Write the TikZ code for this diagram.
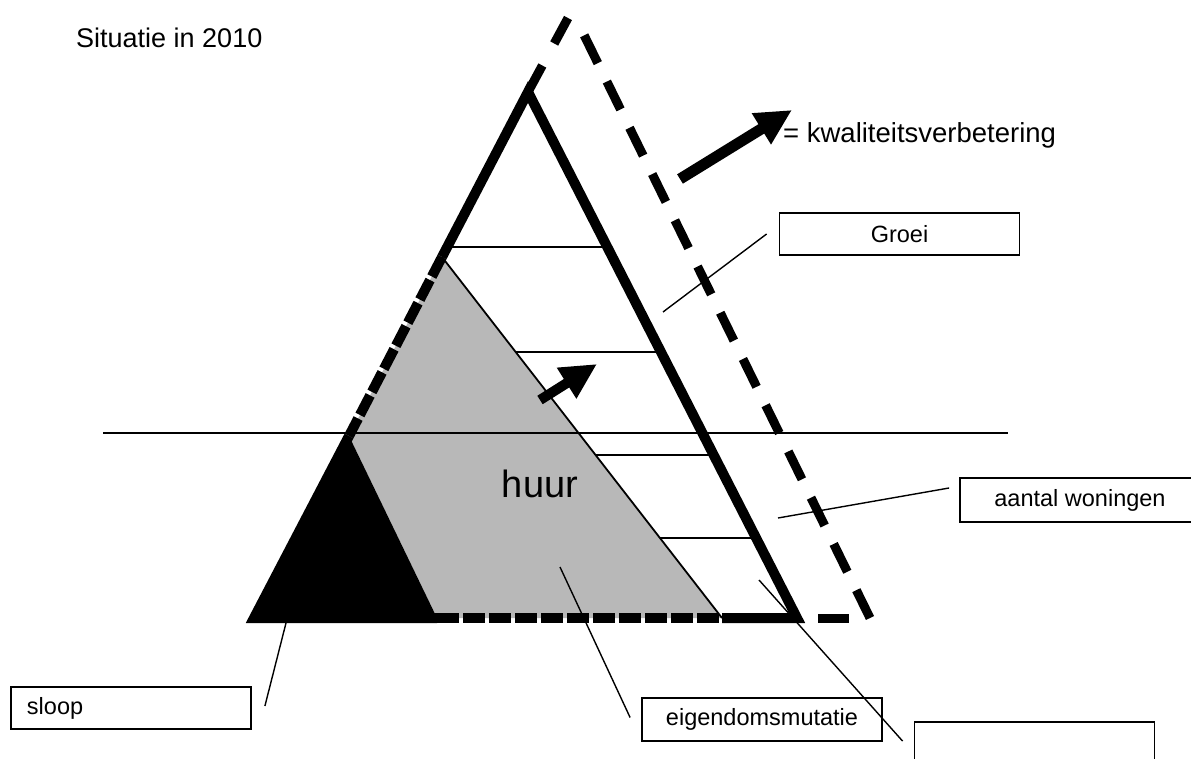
\documentclass[tikz,border=0pt]{standalone}
\usepackage{fontspec}
\setmainfont{Liberation Sans}
\usetikzlibrary{arrows.meta}

\tikzset{
  edge/.style={line width=10pt, line join=miter},
  edgedash/.style={line width=10pt, dash pattern=on 22pt off 4pt},
  outline/.style={line width=9pt, dash pattern=on 31pt off 20.5pt},
  hline/.style={line width=1.8pt},
  leader/.style={line width=1.4pt},
  labelbox/.style={draw, line width=1.8pt, minimum width=240pt, minimum height=42pt,
    inner sep=0pt, font=\fontsize{23.5}{27}\selectfont},
  bigarrow/.style={line width=11pt, -{Triangle[length=36pt,width=34pt]}},
}

\begin{document}
\begin{tikzpicture}[x=1pt,y=-1pt]

  \useasboundingbox (0,0) rectangle (1191,759);
  \clip (0,0) rectangle (1191,759);

  \coordinate (top) at (528,92);
  \coordinate (left) at (254,618);
  \coordinate (right) at (797,618);
  \coordinate (huurtop) at (442,257);
  \coordinate (huurbase) at (722,618);
  \coordinate (sloopside) at (349,436);
  \coordinate (sloopbase) at (437,618);

  % huur and sloop
  \fill[black!28] (huurtop) -- (huurbase) -- (sloopbase) -- (sloopside) -- cycle;
  \fill[black] (sloopside) -- (left) -- (sloopbase) -- cycle;
  \draw[hline] (huurtop) -- (huurbase);

  % layers
  \draw[hline] (447,247) -- (607,247);
  \draw[hline] (515,352) -- (661,352);
  \draw[hline] (595,455) -- (714,455);
  \draw[hline] (660,538) -- (756,538);
  \draw[hline] (103,433) -- (1008,433);

  \node[anchor=base west, inner sep=0pt, font=\fontsize{27}{32}\selectfont] (title) at (76,48) {Situatie in 2010};
  \node[anchor=base west, inner sep=0pt, font=\fontsize{27.5}{32}\selectfont] (legend) at (783,143) {= kwaliteitsverbetering};
  \node[anchor=base, inner sep=0pt, font=\fontsize{38}{44}\selectfont] (huur) at (540,497) {huur};

  \node[labelbox] (groei) at (899.5,234) {Groei};
  \node[labelbox, minimum height=44pt] (aantal) at (1080,500) {aantal woningen};
  \node[labelbox, text width=208pt, align=left] (sloop) at (131,708) {sloop};
  \node[labelbox, minimum height=43pt] (eigendom) at (762,719.5) {eigendomsmutatie};
  \node[labelbox, minimum height=60pt] (leeg) at (1034.5,752) {};

  \coordinate (groei-in) at (663,312);
  \coordinate (aantal-in) at (778,518);
  \coordinate (sloop-in) at (286,623);
  \coordinate (eigendom-in) at (560,567);
  \coordinate (leeg-in) at (759,580);

  \draw[leader] (groei-in) -- ([xshift=-12pt]groei.west);
  \draw[leader] (aantal-in) -- ([xshift=-10pt,yshift=12pt]aantal.west);
  \draw[leader] (sloop-in) -- ([xshift=13pt,yshift=2pt]sloop.east);
  \draw[leader] (eigendom-in) -- ([xshift=-11pt,yshift=2pt]eigendom.west);
  \draw[leader] (leeg-in) -- ([xshift=-11pt,yshift=-20pt]leeg.north west);

  % triangle 2010
  \draw[edge] (huurtop) -- (top) -- (right) -- (huurbase);
  \draw[edge] (sloopside) -- (left) -- (sloopbase);
  \draw[edgedash] (huurtop) -- (sloopside);
  \draw[edgedash] (sloopbase) -- (huurbase);

  % growth
  \coordinate (growtop) at (584,35);
  \coordinate (growleft) at (568,18);
  \coordinate (growright) at (870,618);
  \draw[line width=9pt] (818,618) -- (849,618);
  \draw[outline] (growright) -- (growtop);
  \draw[outline, dash pattern=on 29pt off 25pt] (growleft) -- (top);

  \draw[bigarrow] (680,179) -- (792,110);
  \draw[bigarrow, line width=10pt] (540,400) -- (597,364);

\end{tikzpicture}
\end{document}
